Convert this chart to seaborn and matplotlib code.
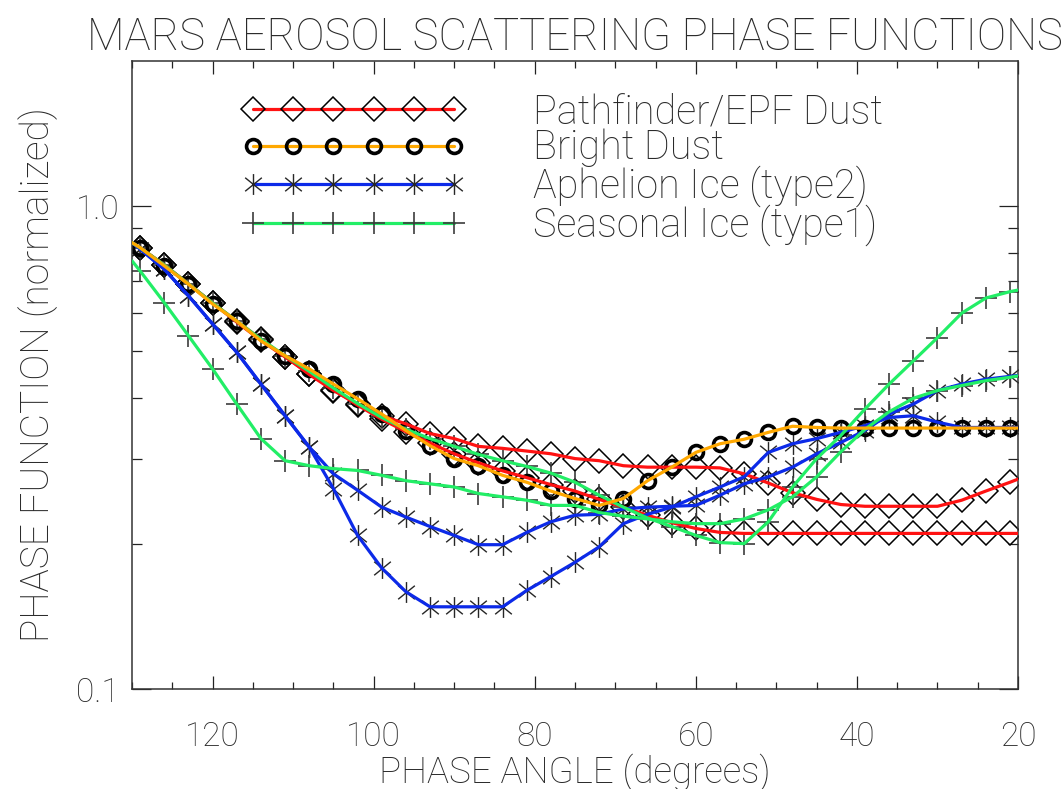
import matplotlib
matplotlib.use("Agg")
import matplotlib.pyplot as plt
from matplotlib.lines import Line2D
from matplotlib.path import Path
from matplotlib.ticker import FixedLocator, FixedFormatter, MultipleLocator, NullFormatter
import seaborn as sns

# Phase angle grid (degrees); the end values only carry the curves to the frame
phase_angle = [130, 129, 126, 123, 120, 117, 114, 111, 108, 105, 102, 99, 96, 93,
               90, 87, 84, 81, 78, 75, 72, 69, 66, 63, 60, 57, 54, 51, 48, 45,
               42, 39, 36, 33, 30, 27, 24, 21, 20]

# Normalized phase functions
pathfinder_a = [0.84, 0.82, 0.755, 0.69, 0.63, 0.578, 0.53, 0.488, 0.448, 0.415, 0.389,
                0.368, 0.354, 0.338, 0.330, 0.318, 0.315, 0.311, 0.307, 0.300, 0.297,
                0.290, 0.288, 0.288, 0.288, 0.287, 0.279, 0.267, 0.255, 0.247, 0.241,
                0.239, 0.239, 0.239, 0.239, 0.246, 0.257, 0.268, 0.272]
pathfinder_b = [0.84, 0.82, 0.755, 0.69, 0.63, 0.575, 0.527, 0.487, 0.45, 0.417, 0.387,
                0.362, 0.341, 0.323, 0.307, 0.294, 0.283, 0.274, 0.265, 0.257, 0.247,
                0.238, 0.229, 0.221, 0.215, 0.211, 0.21, 0.21, 0.21, 0.21, 0.21,
                0.21, 0.21, 0.21, 0.21, 0.21, 0.21, 0.21, 0.21]
bright_dust = [0.84, 0.82, 0.752, 0.689, 0.627, 0.578, 0.526, 0.49, 0.46, 0.428, 0.399,
               0.371, 0.343, 0.319, 0.300, 0.290, 0.277, 0.268, 0.257, 0.248, 0.240,
               0.248, 0.270, 0.288, 0.309, 0.322, 0.329, 0.340, 0.350, 0.348, 0.347,
               0.347, 0.347, 0.347, 0.347, 0.347, 0.347, 0.347, 0.347]
aphelion_a = [0.84, 0.815, 0.74, 0.652, 0.57, 0.498, 0.428, 0.368, 0.317, 0.26, 0.208,
              0.178, 0.159, 0.148, 0.148, 0.148, 0.148, 0.16, 0.171, 0.183, 0.197,
              0.22, 0.23, 0.238, 0.25, 0.262, 0.275, 0.309, 0.322, 0.330, 0.340,
              0.351, 0.365, 0.368, 0.357, 0.348, 0.348, 0.348, 0.348]
aphelion_b = [0.84, 0.815, 0.74, 0.652, 0.57, 0.498, 0.428, 0.368, 0.317, 0.279, 0.258,
              0.238, 0.227, 0.217, 0.208, 0.199, 0.199, 0.211, 0.222, 0.229, 0.230,
              0.236, 0.238, 0.239, 0.240, 0.252, 0.266, 0.275, 0.288, 0.307, 0.324,
              0.343, 0.371, 0.389, 0.415, 0.428, 0.438, 0.444, 0.446]
seasonal_a = [0.77, 0.734, 0.631, 0.539, 0.46, 0.389, 0.33, 0.297, 0.29, 0.286, 0.2835,
              0.277, 0.270, 0.266, 0.262, 0.254, 0.250, 0.246, 0.240, 0.240, 0.232,
              0.228, 0.225, 0.222, 0.22, 0.22, 0.225, 0.235, 0.25, 0.275, 0.31,
              0.345, 0.375, 0.40, 0.415, 0.425, 0.435, 0.442, 0.445]
seasonal_b = [0.84, 0.82, 0.755, 0.69, 0.63, 0.578, 0.53, 0.49, 0.455, 0.42, 0.39,
              0.365, 0.345, 0.33, 0.318, 0.306, 0.297, 0.289, 0.28, 0.268, 0.252,
              0.238, 0.226, 0.217, 0.208, 0.201, 0.200, 0.222, 0.262, 0.30, 0.335,
              0.38, 0.428, 0.478, 0.534, 0.60, 0.645, 0.665, 0.67]

labels = ["Pathfinder/EPF Dust", "Bright Dust", "Aphelion Ice (type2)", "Seasonal Ice (type1)"]
tick_values = [120, 100, 80, 60, 40, 20]
tick_labels = ["120", "100", "80", "60", "40", "20"]

RED, ORANGE, BLUE, GREEN = "#ff1212", "#ffa800", "#0c2ae8", "#22ee66"
INK = "#2a2a2a"

# asterisk: vertical bar crossed by an X
asterisk = Path([(0, -1), (0, 1), (-0.8, -0.65), (0.8, 0.65), (-0.8, 0.65), (0.8, -0.65)],
                [Path.MOVETO, Path.LINETO] * 3)

styles = {
    "diamond": dict(marker="D", ms=12, mfc="none", mec="black", mew=1.1),
    "circle": dict(marker="o", ms=10, mfc="none", mec="black", mew=2.6),
    "asterisk": dict(marker=asterisk, ms=15, mfc="none", mec="#262626", mew=1.0),
    "plus": dict(marker="+", ms=16, mfc="none", mec="#3c3c3c", mew=1.2),
}

curves = [
    (pathfinder_a, RED, "diamond"),
    (pathfinder_b, RED, "diamond"),
    (aphelion_a, BLUE, "asterisk"),
    (aphelion_b, BLUE, "asterisk"),
    (seasonal_a, GREEN, "plus"),
    (seasonal_b, GREEN, "plus"),
    (bright_dust, ORANGE, "circle"),
]

sns.set_theme(style="white")
plt.rcParams["font.family"] = ["Roboto", "DejaVu Sans"]
plt.rcParams["font.weight"] = "light"
plt.rcParams["axes.titleweight"] = "light"
plt.rcParams["axes.labelweight"] = "light"
plt.rcParams["axes.linewidth"] = 1.1

fig = plt.figure(figsize=(10.64, 7.89), dpi=100)
ax = fig.add_axes([0.1241, 0.1267, 0.8327, 0.7964])

inner = slice(1, -1)
for values, color, kind in curves:
    sns.lineplot(x=phase_angle[inner], y=values[inner], ax=ax, linestyle="none",
                 sort=False, errorbar=None, zorder=2, **styles[kind])
    sns.lineplot(x=phase_angle, y=values, ax=ax, color=color, linewidth=2.3,
                 sort=False, errorbar=None, zorder=3)

ax.set_yscale("log")
ax.set_xlim(130, 20)
ax.set_ylim(0.1, 2.0)

ax.xaxis.set_major_locator(FixedLocator(tick_values))
ax.xaxis.set_major_formatter(FixedFormatter(tick_labels))
ax.xaxis.set_minor_locator(MultipleLocator(5))
ax.yaxis.set_major_locator(FixedLocator([0.1, 1.0]))
ax.yaxis.set_major_formatter(FixedFormatter(["0.1", "1.0"]))
ax.yaxis.set_minor_locator(FixedLocator([0.2, 0.3, 0.4, 0.5, 0.6, 0.7, 0.8, 0.9]))
ax.yaxis.set_minor_formatter(NullFormatter())

ax.tick_params(axis="both", which="both", direction="in", bottom=True, top=True,
               left=True, right=True, color="#222222", width=0.9, labelsize=24,
               labelcolor=INK)
ax.tick_params(axis="x", which="major", length=9.5, pad=23)
ax.tick_params(axis="x", which="minor", length=5)
ax.tick_params(axis="y", which="major", length=13.5, pad=9)
ax.tick_params(axis="y", which="minor", length=7)
for s in ax.spines.values():
    s.set_color("#333333")

ax.set_xlabel("PHASE ANGLE (degrees)", fontsize=26.5, color=INK, labelpad=0)
ax.set_ylabel("PHASE FUNCTION (normalized)", fontsize=28, color=INK, labelpad=13)
ax.set_title("MARS AEROSOL SCATTERING PHASE FUNCTIONS", fontsize=31.5, color=INK, pad=8)

handles = []
for kind, color in zip(["diamond", "circle", "asterisk", "plus"], [RED, ORANGE, BLUE, GREEN]):
    handles.append(Line2D([], [], color=color, linewidth=2.3, **styles[kind]))
ax.legend(handles, labels, loc="upper left", bbox_to_anchor=(0.1231, 0.949),
          frameon=False, numpoints=6, handlelength=5.68, handletextpad=1.69,
          labelspacing=-0.058, borderpad=0, borderaxespad=0, fontsize=28.5,
          labelcolor=INK)

fig.savefig("out.png", dpi=100, facecolor="white")
